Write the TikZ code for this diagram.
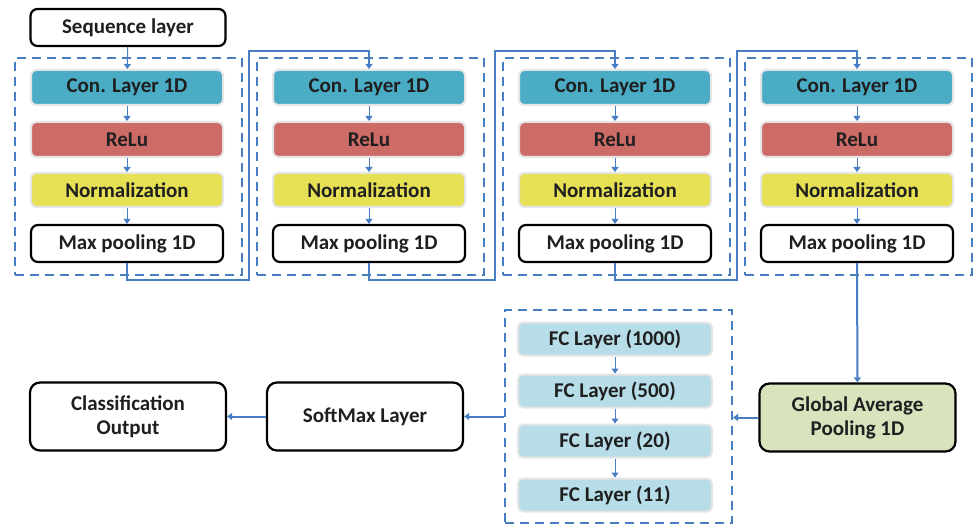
\documentclass[tikz,border=0pt]{standalone}
\usepackage{fontspec}
\setmainfont{Carlito}
\usepackage{tikz}
\usetikzlibrary{arrows.meta}
\definecolor{lineblue}{HTML}{4A7EC4}
\definecolor{convteal}{HTML}{4BACC6}
\definecolor{relured}{HTML}{CD6B67}
\definecolor{normyellow}{HTML}{E6E055}
\definecolor{fcblue}{HTML}{B7DEE8}
\definecolor{gapgreen}{HTML}{D7E4BD}
\tikzset{box/.style={draw=black!10,line width=2pt,rounded corners=5pt,minimum width=192pt,minimum height=35pt,inner sep=0pt,font=\bfseries\fontsize{21}{24}\selectfont,text=black!88}}
\tikzset{cbox/.style={box,fill=convteal}}
\tikzset{rbox/.style={box,fill=relured}}
\tikzset{nbox/.style={box,fill=normyellow,minimum height=34pt}}
\tikzset{pbox/.style={box,draw=black,line width=2.2pt,rounded corners=7pt,fill=white,minimum height=37pt}}
\tikzset{fnode/.style={box,fill=fcblue,minimum width=194pt,minimum height=33pt}}
\tikzset{wbox/.style={pbox,rounded corners=10pt,minimum width=196pt,minimum height=68pt,align=center}}
\tikzset{dbox/.style={draw=lineblue,line width=2pt,dash pattern=on 9pt off 6pt,minimum width=227pt,inner sep=0pt}}
\tikzset{link/.style={draw=lineblue,line width=2pt,-{Triangle[length=5pt,width=7pt]}}}
\tikzset{sarrow/.style={draw=lineblue,line width=1pt,-{Triangle[length=5pt,width=7pt]}}}
\begin{document}
\begin{tikzpicture}[x=1pt,y=-1pt]
    \useasboundingbox (0,0) rectangle (973,526);

    \node[pbox,minimum width=195pt] (seq) at (128,27.5) {Sequence layer};

    % four conv blocks
    \foreach \i/\x in {1/127,2/369,3/615,4/857}{
      \node[dbox,minimum height=217pt] (blk\i) at (\x+1.5,166.5) {};
      \node[cbox] (conv\i) at (\x,87.5) {Con. Layer 1D};
      \node[rbox] (relu\i) at (\x,139.5) {ReLu};
      \node[nbox] (norm\i) at (\x,190) {Normalization};
      \node[pbox] (pool\i) at (\x,243.5) {Max pooling 1D};
      \draw[sarrow] (conv\i) -- (relu\i);
      \draw[sarrow] (relu\i) -- (norm\i);
      \draw[sarrow] (norm\i) -- (pool\i);
      \coordinate (low\i) at (\x-120,280);
      \coordinate (high\i) at (\x-120,51);
    }

    \draw[sarrow] (seq) -- (conv1);
    \foreach \i/\j in {1/2,2/3,3/4}
      \draw[link] (pool\i.south) |- (low\j) -- (high\j) -| (conv\j.north);

    % dense part
    \node[wbox,fill=gapgreen] (gap) at (857.5,417.5) {Global Average\\Pooling 1D};
    \node[dbox,minimum height=213pt] (fcbox) at (618.5,416.5) {};
    \foreach \i/\y/\n in {1/339/1000,2/391/500,3/441/20,4/495/11}
      \node[fnode] (fc\i) at (615,\y) {FC Layer (\n)};
    \foreach \i/\j in {1/2,2/3,3/4}
      \draw[sarrow] (fc\i) -- (fc\j);
    \node[wbox] (soft) at (365,416.5) {SoftMax Layer};
    \node[wbox] (cls) at (128,416.5) {Classification\\Output};

    \draw[link] (pool4) -- (gap);
    \draw[link] (gap.west) -- (gap.west -| fcbox.east);
    \draw[link] (fcbox.west) -- (soft);
    \draw[link] (soft) -- (cls);

\end{tikzpicture}
\end{document}
